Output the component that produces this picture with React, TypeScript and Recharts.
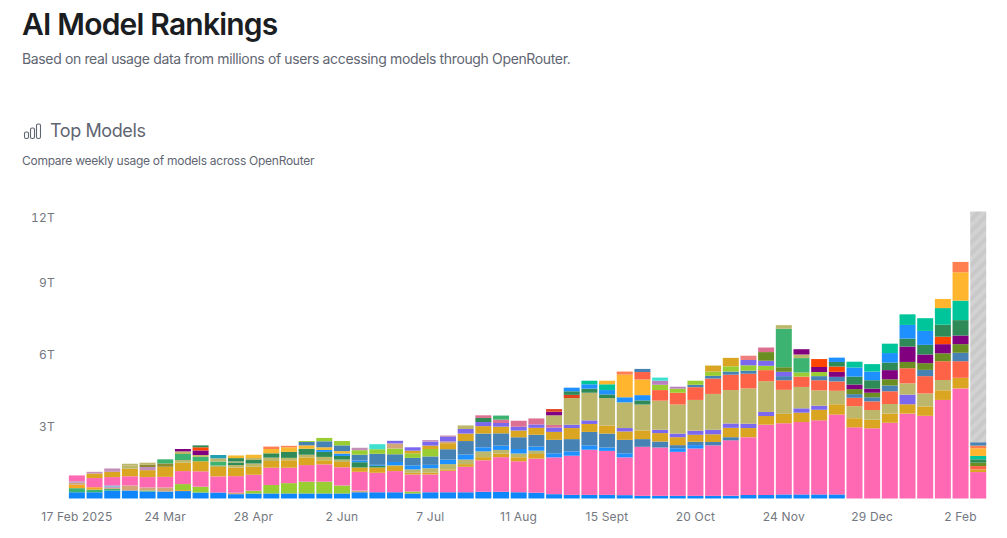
import { Bar, BarChart, XAxis, YAxis } from "recharts";

const weeks = [
  "17 Feb 2025", "24 Feb", "3 Mar", "10 Mar", "17 Mar", "24 Mar", "31 Mar", "7 Apr", "14 Apr", "21 Apr",
  "28 Apr", "5 May", "12 May", "19 May", "26 May", "2 Jun", "9 Jun", "16 Jun", "23 Jun", "30 Jun",
  "7 Jul", "14 Jul", "21 Jul", "28 Jul", "4 Aug", "11 Aug", "18 Aug", "25 Aug", "1 Sept", "8 Sept",
  "15 Sept", "22 Sept", "29 Sept", "6 Oct", "13 Oct", "20 Oct", "27 Oct", "3 Nov", "10 Nov", "17 Nov",
  "24 Nov", "1 Dec", "8 Dec", "15 Dec", "22 Dec", "29 Dec", "5 Jan", "12 Jan", "19 Jan", "26 Jan",
  "2 Feb", "9 Feb",
];

const yTicks = [3, 6, 9, 12];

// weekly tokens in T; each list starts at the week given as first argument, the rest of the year is empty
const from = (start: number, values: number[]) =>
  weeks.map((_, i) => (i >= start && i - start < values.length ? values[i - start] : 0));

const blueBase = from(0, [.26, .26, .33, .33, .29, .29, .31, .25, .25, .18, .21, .21, .21, .21, .21, .21, .26, .26, .26, .21, .26, .26, .26, .28, .28, .26, .24, .18, .15, .15, .15, .14, .11, .11, .11, .11, .11, .11, .15, .15, .17, .17, .17, .17]);
const greenLow = from(0, [.17, .11, .07, 0, .04]);
const orangeLow = from(0, [.14, .10, 0, 0, 0, 0, .04]);
const limeLow = from(6, [.25, .24, 0, 0, .11, .35, .43, .49, .49, .33, 0, 0, 0, .08]);
const tanLow = from(0, [.08, 0, .04, .21, .13, .17, 0, 0, 0, .06, 0, 0, 0, 0, 0, 0, .07]);
const plumLow = from(0, [.07, 0, .06]);
const skyLow = from(2, [.04]);
const pink = from(0, [.24, .38, .35, .39, .43, .44, .54, .64, .67, .69, .67, .72, .64, .69, .72, .76, .78, .81, .88, .71, .74, .89, 1.06, 1.31, 1.44, 1.29, 1.42, 1.53, 1.63, 1.88, 1.83, 1.57, 2.04, 2.01, 1.83, 1.97, 2.10, 2.31, 2.40, 2.92, 2.96, 3.01, 3.08, 3.32, 2.96, 2.92, 3.15, 3.53, 3.44, 4.10, 4.58, 1.10]);
const goldA = from(1, [.19, .22, .31, .29, .42, .35, .42, .39, .36, .33, .28, .31, .32, .17, .22, .18, .22, .21, .07, .08, .06, .11, .13, .15, .17, .19]);
const khakiA = from(3, [.14, 0, 0, .11, 0, .06, .10, .14, .14, .10, .11, .14, .10, 0, 0, .03, .14, .18, .22, .19, .24, .15, .15, .14]);
const plumMid = from(4, [.13]);
const oliveMid = from(4, [.10, .14]);
const mediumGreenA = from(5, [.17, .25, .18, .17]);
const seaGreenA = from(9, [.11, .14, .18, .25, .25, .21, .15, .22, .07]);
const khakiB = from(3, [.07, .08, 0, .11, .08, .13, .04, .08]);
const purpleLow = from(6, [.10, .19]);
const redLow = from(7, [.13]);
const seaGreenTop = from(7, [.08, 0, .14]);
const tealLow = from(8, [.14]);
const dodgerMid = from(14, [.08, .10, .07, .04, .14, .17, .14, .19, .21, .17, .18, .19, .17, .17, .18, .18, .14, .17, 0, 0, .15, .14]);
const goldC = from(9, [.11, .14, .18, .19, .14, .11, .10]);
const coralLow = from(11, [.10, .06]);
const steelMid = from(13, [.14, .25, .24, .24, .46, .32, .31, .35, .43, .56, .57, .51, .49, .49, .56, .51, .56, .58, .56, .32, .25, .13, .14, .14, .13]);
const limeMid = from(13, [.04, .14, .18, .19, .19, .24, .19, .31]);
const turquoiseMid = from(17, [.21]);
const goldB = from(19, [.11, .14, .25, .31, .31, .28, .28, .29, .33, .46, .33, .33, .35, .36, .35, .33, .29, .32, .39, .38, .36, .39, .39, .44, .43, .38, .36, .38, .39, .39, .40, .44, .11]);
const tanB = from(18, [.21, 0, 0, .07]);
const slateA = from(18, [.11, .14, .17, .19, .19, .17, .15, .15, .14, .18, .14, .15, 0, .14, 0, .14, .15, .17, .19, .18, .18, .17, 0, .18, .17, 0, 0, 0, 0, .40]);
const plumA = from(1, [.07, .14, 0, 0, 0, 0, 0, 0, 0, 0, 0, 0, 0, 0, 0, .10, 0, 0, 0, .06, .06]);
const seaGreenB = from(23, [.17]);
const paleRedA = from(23, [.11, .14, .25, .25, .11]);
const mediumGreenB = from(24, [.17]);
const khakiMain = from(22, [.15, 0, 0, 0, 0, .40, 1.11, 1.15, 1.15, 1.07, 1.08, 1.21, 1.21, 1.28, 1.49, 1.39, 1.47, 1.28, 1.00, .89, .64, .56, .50, .40, .40, .47, .54, .43]);
const purpleX = from(27, [.15]);
const redX = from(27, [.11, .13]);
const seaGreenX = from(28, [.15, .17, .15, 0, .17]);
const dodgerX = from(28, [.15, .18, .18, .21, .22]);
const tealX = from(29, [.15, .24]);
const amberX = from(30, [.15, .94, .65]);
const coralX = from(31, [.13]);
const tomato = from(32, [.31, .44, .49, .53, .64, .64, .61, .46, .40, .43, .42, .39, .35, .36, .53, .63, .72, .78, .69, .14]);
const steelY = from(32, [.13, 0, 0, .10, .11, .13, .13, 0, .17, 0, .17, .19, .15, .17, .24, 0, .26, 0, .35]);
const limeY = from(33, [.22, .17, .17, .18, .22, .22, .18, 0, .17, .17]);
const plumY = from(33, [.17, .08]);
const turquoiseY = from(33, [.13]);
const goldY = from(36, [.25, .35]);
const slateY = from(38, [.22, .21, .18]);
const lightCoralY = from(38, [.18]);
const oliveY = from(39, [.36, .19, 0, 0, 0, .21, .19, .26, .26, .28, .33, .36, .14]);
const paleRedY = from(39, [.19]);
const mediumGreenY = from(40, [1.60, .60]);
const khakiY = from(40, [.15, .15]);
const purpleY = from(41, [.22, .21, .21, .19, .17, .38, .64, .36, .38, .36]);
const orangeRedY = from(42, [.33, .22, 0, 0, 0, 0, 0, .31]);
const seaGreenY = from(43, [.19, .33, .35, .31, .33, .40, .50, .64, .14]);
const dodgerY = from(43, [.18, .38, .36, .40, .57, .58]);
const tealY = from(44, [.24, .31, .39, .44, .53, .69, .81, .14]);
const amberY = from(49, [.38, 1.18, .32]);
const coralY = from(50, [.43, .11]);
const steelZ = from(51, [.14]);
const partialWeek = from(51, [9.6]);

// bottom to top
const series: [string, number[], string][] = [
  ["blueBase", blueBase, "#0f87fa"],
  ["greenLow", greenLow, "#3cb371"],
  ["orangeLow", orangeLow, "#f5a623"],
  ["limeLow", limeLow, "#9acd32"],
  ["tanLow", tanLow, "#d2a679"],
  ["plumLow", plumLow, "#c09ac0"],
  ["skyLow", skyLow, "#40b0e0"],
  ["pink", pink, "#ff69b4"],
  ["goldA", goldA, "#daa520"],
  ["khakiA", khakiA, "#bdb76b"],
  ["plumMid", plumMid, "#c08fc0"],
  ["oliveMid", oliveMid, "#8f8a30"],
  ["mediumGreenA", mediumGreenA, "#3cb371"],
  ["seaGreenA", seaGreenA, "#2e8b57"],
  ["khakiB", khakiB, "#bdb76b"],
  ["purpleLow", purpleLow, "#800080"],
  ["redLow", redLow, "#ff4500"],
  ["seaGreenTop", seaGreenTop, "#2e8b57"],
  ["tealLow", tealLow, "#20a0b0"],
  ["dodgerMid", dodgerMid, "#1e90ff"],
  ["goldC", goldC, "#f5b82e"],
  ["coralLow", coralLow, "#ff7f50"],
  ["steelMid", steelMid, "#4682b4"],
  ["limeMid", limeMid, "#9acd32"],
  ["turquoiseMid", turquoiseMid, "#40e0d0"],
  ["goldB", goldB, "#daa520"],
  ["tanB", tanB, "#d2a679"],
  ["slateA", slateA, "#7b68ee"],
  ["plumA", plumA, "#c48fb8"],
  ["seaGreenB", seaGreenB, "#2e8b57"],
  ["paleRedA", paleRedA, "#db7093"],
  ["mediumGreenB", mediumGreenB, "#3cb371"],
  ["khakiMain", khakiMain, "#bdb76b"],
  ["purpleX", purpleX, "#800080"],
  ["redX", redX, "#e2431e"],
  ["seaGreenX", seaGreenX, "#2e8b57"],
  ["dodgerX", dodgerX, "#1e90ff"],
  ["tealX", tealX, "#00c49a"],
  ["amberX", amberX, "#ffb52e"],
  ["coralX", coralX, "#ff7f50"],
  ["tomato", tomato, "#ff6347"],
  ["steelY", steelY, "#4682b4"],
  ["limeY", limeY, "#9acd32"],
  ["plumY", plumY, "#ba7fc0"],
  ["turquoiseY", turquoiseY, "#40e0d0"],
  ["goldY", goldY, "#daa520"],
  ["slateY", slateY, "#7b68ee"],
  ["lightCoralY", lightCoralY, "#f08080"],
  ["oliveY", oliveY, "#6b8e23"],
  ["paleRedY", paleRedY, "#db7093"],
  ["mediumGreenY", mediumGreenY, "#3cb371"],
  ["khakiY", khakiY, "#bdb76b"],
  ["purpleY", purpleY, "#800080"],
  ["orangeRedY", orangeRedY, "#ff4500"],
  ["seaGreenY", seaGreenY, "#2e8b57"],
  ["dodgerY", dodgerY, "#1e90ff"],
  ["tealY", tealY, "#00c49a"],
  ["amberY", amberY, "#ffb52e"],
  ["coralY", coralY, "#ff7f50"],
  ["steelZ", steelZ, "#4682b4"],
  ["partialWeek", partialWeek, "url(#hatch)"],
];

const chartData = weeks.map((week, i) => {
  const row: Record<string, string | number> = { week };
  series.forEach(([name, values]) => {
    row[name] = values[i];
  });
  return row;
});

const font = "Inter, sans-serif";
const axisText = { fontSize: 12, fill: "#737780", fontFamily: font, fontVariantNumeric: "tabular-nums", letterSpacing: 0.2 };

// the top label sits inside the plot, below its tick
function YTick({ x, y, payload }: any) {
  return (
    <text x={x - 5} y={y + (payload.value === 12 ? 7 : 0)} textAnchor="end" dominantBaseline="central" style={axisText}>
      {`${payload.value}T`}
    </text>
  );
}

function BarsIcon() {
  return (
    <svg width={20} height={18} viewBox="0 0 20 18" style={{ position: "absolute", left: 22, top: 122 }} fill="none" stroke="#5f6672" strokeWidth={1.1}>
      <rect x={2.5} y={10} width={4} height={6.5} rx={1.6} />
      <rect x={8.5} y={6} width={4} height={10.5} rx={1.6} />
      <rect x={14.5} y={2} width={4} height={14.5} rx={1.6} />
    </svg>
  );
}

const textBase = { position: "absolute", left: 22, whiteSpace: "nowrap", fontFamily: font, margin: 0 } as const;

export default function App() {
  return (
    <div style={{ position: "absolute", left: 0, top: 0, width: 1007, height: 538, background: "#fff", overflow: "hidden" }}>
      <div style={{ ...textBase, top: 5, fontSize: 30, lineHeight: "38px", fontWeight: 600, letterSpacing: -0.8, color: "#1a1d21" }}>AI Model Rankings</div>
      <div style={{ ...textBase, top: 49, fontSize: 14, lineHeight: "20px", letterSpacing: -0.36, color: "#5f6672" }}>
        Based on real usage data from millions of users accessing models through OpenRouter.
      </div>
      <BarsIcon />
      <div style={{ ...textBase, left: 50, top: 120, fontSize: 18, lineHeight: "22px", letterSpacing: -0.4, color: "#5f6672" }}>Top Models</div>
      <div style={{ ...textBase, top: 153, fontSize: 12, lineHeight: "16px", letterSpacing: -0.27, color: "#5f6672" }}>Compare weekly usage of models across OpenRouter</div>

      <div style={{ position: "absolute", left: 0, top: 0 }}>
        <BarChart width={1007} height={538} data={chartData} margin={{ top: 210, right: 20, bottom: 9.5, left: 0 }} barCategoryGap="5%">
          <defs>
            <pattern id="hatch" patternUnits="userSpaceOnUse" width={8} height={8} patternTransform="rotate(-45)">
              <rect width={8} height={8} fill="#d2d2d2" />
              <rect width={8} height={4} fill="#c9c9c9" />
            </pattern>
          </defs>
          <XAxis dataKey="week" interval={4} height={30} axisLine={false} tickLine={false} tick={axisText} tickMargin={8} />
          <YAxis width={68} domain={[0, 12]} ticks={yTicks} axisLine={false} tickLine={false} tick={YTick} />
          {series.map(([name, , color]) => (
            <Bar key={name} dataKey={name} stackId="usage" fill={color} isAnimationActive={false} />
          ))}
        </BarChart>
      </div>
    </div>
  );
}
